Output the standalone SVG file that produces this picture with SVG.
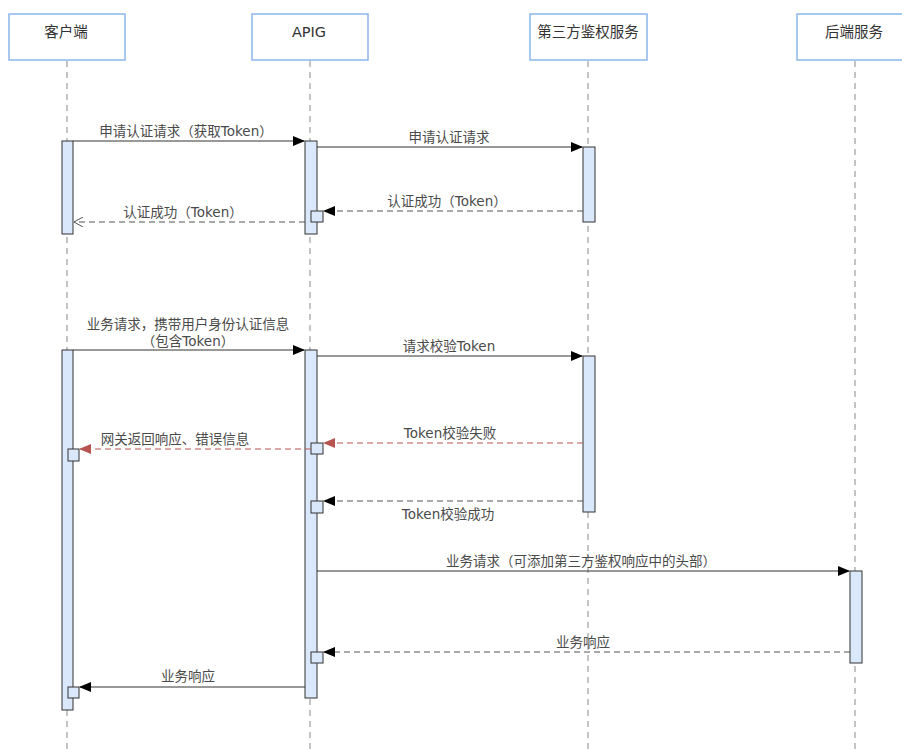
<svg xmlns="http://www.w3.org/2000/svg" width="902" height="749" viewBox="0 0 902 749">
<style>
.hdr{fill:#fff;stroke:#8ab6ea;stroke-width:1.5}
.ht{font-family:"DejaVu Sans","Noto Sans CJK SC",sans-serif;font-size:14.5px;fill:#333;text-anchor:middle}
.life{stroke:#c4c4c4;stroke-width:2;stroke-dasharray:6,5;fill:none}
.act{fill:#dae8fc;stroke:#333;stroke-width:1}
.msg{stroke:#333;stroke-width:1;fill:none}
.ret{stroke:#555;stroke-width:1.2;stroke-dasharray:6,4;fill:none}
.err{stroke:#b85450;stroke-width:1.2;stroke-dasharray:6,4;fill:none}
.lbl{font-family:"DejaVu Sans","Noto Sans CJK SC",sans-serif;font-size:13.5px;fill:#4a4a4a;text-anchor:middle}
</style>
<defs>
<marker id="af" markerWidth="12" markerHeight="10" refX="11" refY="5" orient="auto" markerUnits="userSpaceOnUse"><path d="M0,0 L12,5 L0,10 Z" fill="#000"/></marker>
<marker id="ar" markerWidth="12" markerHeight="10" refX="11" refY="5" orient="auto" markerUnits="userSpaceOnUse"><path d="M0,0 L12,5 L0,10 Z" fill="#b85450"/></marker>
<marker id="ao" markerWidth="10" markerHeight="10" refX="9" refY="5" orient="auto" markerUnits="userSpaceOnUse"><path d="M0,0 L9,5 L0,10" fill="none" stroke="#555" stroke-width="1"/></marker>
</defs>
<g id="lifelines">
<line class="life" x1="67" y1="61" x2="67" y2="749"/>
<line class="life" x1="310" y1="61" x2="310" y2="749"/>
<line class="life" x1="588" y1="61" x2="588" y2="749"/>
<line class="life" x1="855" y1="61" x2="855" y2="749"/>
</g>
<g id="client"><rect class="hdr" x="9" y="14" width="116" height="46"/><text class="ht" x="66" y="37">客户端</text></g>
<g id="apig"><rect class="hdr" x="252" y="14" width="116" height="46"/><text class="ht" x="309" y="37">APIG</text></g>
<g id="auth"><rect class="hdr" x="530" y="14" width="117" height="46"/><text class="ht" x="588" y="37">第三方鉴权服务</text></g>
<g id="backend"><rect class="hdr" x="797" y="14" width="116" height="46"/><text class="ht" x="854" y="37">后端服务</text></g>
<g id="activations">
<rect class="act" x="62" y="141" width="11" height="93"/>
<rect class="act" x="305" y="141" width="12" height="93"/>
<rect class="act" x="583" y="147" width="12" height="75"/>
<rect class="act" x="311" y="211" width="12" height="11"/>
<rect class="act" x="62" y="350" width="11" height="360"/>
<rect class="act" x="305" y="350" width="12" height="348"/>
<rect class="act" x="583" y="356" width="12" height="156"/>
<rect class="act" x="850" y="571" width="12" height="92"/>
<rect class="act" x="311" y="443" width="12" height="11"/>
<rect class="act" x="68" y="449" width="11" height="12"/>
<rect class="act" x="311" y="501" width="12" height="12"/>
<rect class="act" x="311" y="652" width="12" height="11"/>
<rect class="act" x="68" y="687" width="11" height="11"/>
</g>
<g id="connectors">
<line class="msg" x1="73" y1="141" x2="304" y2="141" marker-end="url(#af)"/>
<line class="msg" x1="317" y1="147" x2="582" y2="147" marker-end="url(#af)"/>
<line class="ret" x1="583" y1="211" x2="324" y2="211" marker-end="url(#af)"/>
<line class="ret" x1="305" y1="222" x2="74" y2="222" marker-end="url(#ao)"/>
<line class="msg" x1="73" y1="350" x2="304" y2="350" marker-end="url(#af)"/>
<line class="msg" x1="317" y1="356" x2="582" y2="356" marker-end="url(#af)"/>
<line class="err" x1="583" y1="443" x2="324" y2="443" marker-end="url(#ar)"/>
<line class="err" x1="311" y1="449" x2="80" y2="449" marker-end="url(#ar)"/>
<line class="ret" x1="583" y1="501" x2="324" y2="501" marker-end="url(#af)"/>
<line class="msg" x1="317" y1="571" x2="849" y2="571" marker-end="url(#af)"/>
<line class="ret" x1="850" y1="652" x2="324" y2="652" marker-end="url(#af)"/>
<line class="msg" x1="305" y1="687" x2="80" y2="687" marker-end="url(#af)"/>
</g>
<g id="labels">
<text class="lbl" x="186" y="136">申请认证请求（获取Token）</text>
<text class="lbl" x="449" y="142">申请认证请求</text>
<text class="lbl" x="447" y="206">认证成功（Token）</text>
<text class="lbl" x="183" y="217">认证成功（Token）</text>
<text class="lbl" x="188" y="329">业务请求，携带用户身份认证信息</text>
<text class="lbl" x="188" y="346">（包含Token）</text>
<text class="lbl" x="449" y="351">请求校验Token</text>
<text class="lbl" x="450" y="438">Token校验失败</text>
<text class="lbl" x="175" y="444">网关返回响应、错误信息</text>
<text class="lbl" x="448" y="519">Token校验成功</text>
<text class="lbl" x="581" y="566">业务请求（可添加第三方鉴权响应中的头部）</text>
<text class="lbl" x="583" y="647">业务响应</text>
<text class="lbl" x="188" y="681">业务响应</text>
</g>
</svg>
